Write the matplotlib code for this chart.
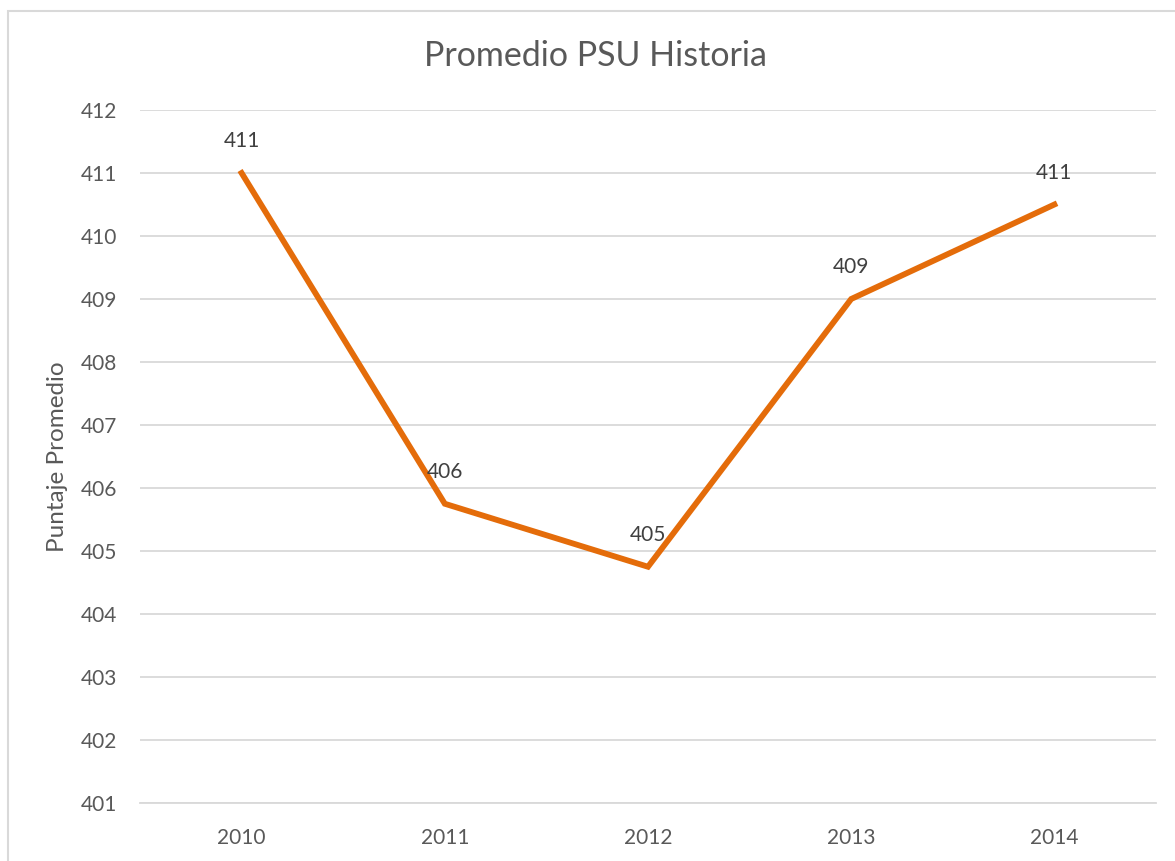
import matplotlib
matplotlib.use("Agg")
import matplotlib.pyplot as plt
from matplotlib.patches import Rectangle

years = ["2010", "2011", "2012", "2013", "2014"]
values = [411.0, 405.75, 404.75, 409.0, 410.5]
labels = ["411", "406", "405", "409", "411"]
yticks = list(range(401, 413))

plt.rcParams['font.family'] = ['Lato', 'DejaVu Sans']
txt = '#595959'
grid = '#d9d9d9'
orange = '#E46C0A'

fig = plt.figure(figsize=(11.75, 8.61), dpi=100)
ax = fig.add_axes([140/1175, 1-803/861, (1156-140)/1175, (803-110)/861])

x = list(range(len(years)))
ax.plot(x, values, color=orange, linewidth=4.2, solid_joinstyle='miter', zorder=3)
for xi, v, lab in zip(x, values, labels):
    ax.annotate(lab, (xi, v), xytext=(0, 23), textcoords='offset points',
                ha='center', va='center', fontsize=15, color='#404040', zorder=4)

ax.set_xlim(-0.5, len(years) - 0.5)
ax.set_ylim(401, 412)
ax.set_yticks(yticks)
ax.set_yticklabels([str(t) for t in yticks])
ax.set_xticks(x)
ax.set_xticklabels(years)
ax.tick_params(axis='both', length=0, labelsize=15, labelcolor=txt)
ax.tick_params(axis='y', pad=16.5)
ax.tick_params(axis='x', pad=18)
ax.grid(axis='y', color=grid, linewidth=1.3)
ax.set_axisbelow(True)
for s in ['top', 'right', 'left']:
    ax.spines[s].set_visible(False)
ax.spines['bottom'].set_color(grid)
ax.spines['bottom'].set_linewidth(1.3)

ax.set_ylabel("Puntaje Promedio", fontsize=17.5, color=txt)
ax.yaxis.set_label_coords(-(140-58)/1016, 0.5)
ax.yaxis.label.set_va('center')
fig.text(596/1175, 1-56/861, "Promedio PSU Historia", ha='center', va='center',
         fontsize=24.5, color=txt)

fig.patches.append(Rectangle((7.5/1175, -0.1), 2.0, (861-11)/861 + 0.1,
                             transform=fig.transFigure, fill=False,
                             edgecolor=grid, linewidth=1.5))

fig.savefig("out.png", dpi=100)
